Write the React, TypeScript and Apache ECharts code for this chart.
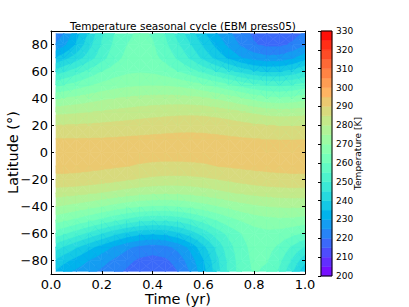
import React, { useEffect, useRef } from 'react';
import * as echarts from 'echarts';

const FONT = 'DejaVu Sans';

// time samples (yr) and latitude samples (deg)
const TIMES = [0.02, 0.05, 0.1, 0.15, 0.2, 0.25, 0.3, 0.35, 0.4, 0.45, 0.5, 0.55, 0.6, 0.65, 0.7, 0.75, 0.8, 0.85, 0.9, 0.95, 1.0];
const LATS = [-88, -80, -70, -60, -50, -40, -30, -20, -10, 0, 10, 20, 30, 40, 50, 60, 70, 80, 88];

// temperature (K) per latitude row, one value per time sample
const T_S88 = [234, 231.8, 229, 226.5, 224, 221.6, 219.2, 216.8, 215.8, 216.8, 220, 225.5, 233, 242, 251, 257.5, 260.5, 259, 254, 245.5, 236];
const T_S80 = [239, 236.5, 233, 229.8, 226.8, 224, 221.3, 219, 218.2, 219, 222, 227.5, 234.5, 243, 251.3, 257.8, 261, 260.3, 256, 249, 241.5];
const T_S70 = [247, 244.5, 240.5, 236.5, 232.8, 229.2, 226, 223.6, 222.5, 223.5, 226.5, 231.5, 238.5, 246, 253, 258.5, 261.5, 261.8, 259, 254, 249.5];
const T_S60 = [257.5, 255.6, 252.2, 248.5, 244.8, 241.2, 238.2, 236.2, 235.5, 236.2, 238.6, 242.3, 247, 252, 256.5, 260, 262.5, 263.5, 263, 261.3, 259.3];
const T_S50 = [267, 265.8, 263.6, 261.2, 258.5, 255.8, 253.3, 251.3, 250.3, 250.3, 251.5, 253.8, 256.8, 260, 263, 265.5, 267.3, 268.3, 268.8, 268.6, 267.8];
const T_S40 = [275, 274.3, 273, 271.5, 269.8, 268, 266.3, 265, 264.3, 264.2, 264.8, 266, 267.6, 269.4, 271.2, 272.8, 274, 274.9, 275.4, 275.6, 275.4];
const T_S30 = [282.3, 282, 281.4, 280.6, 279.6, 278.5, 277.4, 276.4, 275.8, 275.5, 275.7, 276.3, 277.2, 278.3, 279.5, 280.5, 281.3, 281.9, 282.3, 282.5, 282.5];
const T_S20 = [288.7, 288.7, 288.5, 288, 287.3, 286.4, 285.4, 284.5, 283.8, 283.4, 283.3, 283.5, 284, 284.8, 285.8, 286.7, 287.5, 288.1, 288.5, 288.7, 288.7];
const T_S10 = [291.6, 291.6, 291.5, 291.3, 291, 290.6, 290.1, 289.6, 289.2, 289, 289, 289.2, 289.5, 290, 290.5, 290.9, 291.2, 291.4, 291.5, 291.6, 291.6];
const T_EQ = [292.3, 292.3, 292.3, 292.2, 292.1, 292, 291.9, 291.8, 291.8, 291.8, 291.8, 291.8, 291.8, 291.9, 292, 292.1, 292.2, 292.3, 292.3, 292.3, 292.3];
const T_N10 = [290.1, 290.1, 290.1, 290.2, 290.3, 290.5, 290.7, 290.9, 291.1, 291.2, 291.3, 291.3, 291.2, 291, 290.7, 290.4, 290.1, 289.9, 289.8, 289.8, 289.9];
const T_N20 = [285.2, 285.3, 285.5, 285.8, 286.1, 286.5, 286.9, 287.3, 287.7, 288.1, 288.4, 288.5, 288.4, 288, 287.4, 286.6, 285.8, 285.2, 284.9, 284.9, 285];
const T_N30 = [278.5, 278.7, 279.2, 279.8, 280.5, 281.2, 281.8, 282.4, 282.9, 283.3, 283.6, 283.7, 283.5, 282.8, 281.8, 280.5, 279, 277.8, 277.3, 277.5, 278];
const T_N40 = [269.5, 270.3, 271.5, 272.8, 274, 275, 275.8, 276.4, 276.8, 277, 277, 276.6, 275.8, 274.4, 272.6, 270.5, 268.3, 266.5, 265.8, 266.5, 268.3];
const T_N50 = [258.5, 259.8, 262, 264.3, 266.3, 267.8, 268.8, 269.4, 269.6, 269.4, 268.7, 267.4, 265.5, 263.2, 260.6, 258, 255.7, 254.2, 253.8, 254.8, 256.8];
const T_N60 = [247, 249, 252.5, 256.5, 260, 262.5, 264, 264.5, 264, 262.5, 260, 257, 253.5, 250, 246.5, 243, 240.5, 239.3, 239.5, 241.5, 244.8];
const T_N70 = [235.5, 238, 242.5, 247.5, 253, 258, 261.5, 262.5, 261.5, 258.5, 254, 249, 243.5, 238.5, 234, 230.3, 227.8, 226.5, 226.8, 229, 233];
const T_N80 = [225.5, 228.5, 235.5, 243, 250.5, 256, 260, 261.5, 260.5, 256, 250.5, 245, 239, 233.5, 228.5, 224, 220.5, 218.7, 218.7, 220.8, 224];
const T_N88 = [222, 225, 233, 241, 249, 255, 259, 261, 259.5, 254.5, 248, 242, 236, 230.5, 226, 222, 219, 217, 216.5, 218, 220.8];

const ROWS = [T_S88, T_S80, T_S70, T_S60, T_S50, T_S40, T_S30, T_S20, T_S10, T_EQ, T_N10, T_N20, T_N30, T_N40, T_N50, T_N60, T_N70, T_N80, T_N88];

// contour levels (K)
const LEVELS = [200, 205, 210, 215, 220, 225, 230, 235, 240, 245, 250, 255, 260, 265, 270, 275, 280, 285, 290, 295, 300, 305, 310, 315, 320, 325, 330];
const LAT_TICKS = [-80, -60, -40, -20, 0, 20, 40, 60, 80];

function rainbow(x: number) {
  const r = Math.min(1, Math.abs(2 * x - 0.5));
  const g = Math.max(0, Math.sin(Math.PI * x));
  const b = Math.max(0, Math.cos((Math.PI * x) / 2));
  return `rgb(${Math.round(r * 255)},${Math.round(g * 255)},${Math.round(b * 255)})`;
}
const VMIN = LEVELS[0];
const VMAX = LEVELS[LEVELS.length - 1];
const BAND_COLORS = LEVELS.slice(0, -1).map((lo, k) => rainbow(((lo + LEVELS[k + 1]) / 2 - VMIN) / (VMAX - VMIN)));

function bandIndex(v: number) {
  let k = 0;
  while (k < LEVELS.length - 2 && v >= LEVELS[k + 1]) k++;
  return k;
}

type P = [number, number, number];
function clipAbove(pts: P[], L: number): P[] {
  const out: P[] = [];
  for (let i = 0; i < pts.length; i++) {
    const a = pts[i];
    const b = pts[(i + 1) % pts.length];
    const ain = a[2] >= L;
    const bin = b[2] >= L;
    if (ain) out.push(a);
    if (ain !== bin) {
      const f = (L - a[2]) / (b[2] - a[2]);
      out.push([a[0] + f * (b[0] - a[0]), a[1] + f * (b[1] - a[1]), L]);
    }
  }
  return out;
}

function addTriangle(children: any[], tri: P[]) {
  const vals = tri.map((p) => p[2]);
  const vmin = Math.min(...vals);
  const vmax = Math.max(...vals);
  const k0 = bandIndex(vmin);
  const k1 = bandIndex(vmax);
  const base = BAND_COLORS[k0];
  children.push({
    type: 'polygon',
    shape: { points: tri.map((p) => [p[0], p[1]]) },
    style: { fill: base, stroke: base, lineWidth: 0.6 },
  });
  for (let k = k0 + 1; k <= k1; k++) {
    const poly = clipAbove(tri, LEVELS[k]);
    if (poly.length >= 3) {
      const c = BAND_COLORS[k];
      children.push({
        type: 'polygon',
        shape: { points: poly.map((p) => [p[0], p[1]]) },
        style: { fill: c, stroke: c, lineWidth: 0.6 },
      });
    }
  }
}

const CELLS: number[][] = [];
for (let j = 0; j < LATS.length - 1; j++) {
  for (let i = 0; i < TIMES.length - 1; i++) {
    CELLS.push([(TIMES[i] + TIMES[i + 1]) / 2, (LATS[j] + LATS[j + 1]) / 2, i, j]);
  }
}

const BLACK = '#000';
const tickStyle = { color: BLACK, width: 1 };
const lineStyle = { color: BLACK, width: 1 };
const latFormatter = (v: number) => (v < 0 ? '\u2212' + Math.abs(v) : String(v));

export default function App() {
  const ref = useRef<HTMLDivElement>(null);
  useEffect(() => {
    if (!ref.current) return;
    const chart = echarts.init(ref.current, null, { renderer: 'svg' });
    const option: any = {
      animation: false,
      backgroundColor: '#fff',
      textStyle: { fontFamily: FONT },
      title: {
        text: 'Temperature seasonal cycle (EBM press05)',
        left: 178,
        top: 15,
        textAlign: 'center',
        textStyle: { fontSize: 10.5, fontWeight: 'normal', color: BLACK, fontFamily: FONT },
      },
      grid: [
        { left: 51, top: 31, width: 254, height: 243, outerBoundsMode: 'none', containLabel: false },
        { left: 321, top: 31, width: 11, height: 245, outerBoundsMode: 'none', containLabel: false },
      ],
      xAxis: [
        {
          gridIndex: 0, type: 'value', min: 0, max: 1, interval: 0.2, position: 'bottom', z: 10,
          axisLine: { show: true, onZero: false, lineStyle },
          axisTick: { show: true, inside: true, length: 3, lineStyle: tickStyle },
          axisLabel: { formatter: (v: number) => v.toFixed(1), fontSize: 13, lineHeight: 13, color: BLACK, margin: 4, fontFamily: FONT },
          splitLine: { show: false },
          name: 'Time (yr)', nameLocation: 'middle', nameGap: 17.5, nameMoveOverlap: false,
          nameTextStyle: { fontSize: 14.5, lineHeight: 15, color: BLACK, fontFamily: FONT },
        },
        {
          gridIndex: 0, type: 'value', min: 0, max: 1, interval: 0.2, position: 'top', z: 10,
          axisLine: { show: true, onZero: false, lineStyle },
          axisTick: { show: true, inside: true, length: 3, lineStyle: tickStyle },
          axisLabel: { show: false },
          splitLine: { show: false },
        },
        { gridIndex: 1, type: 'value', min: 0, max: 1, show: false },
      ],
      yAxis: [
        {
          gridIndex: 0, type: 'value', min: -90, max: 90, position: 'left', z: 10,
          axisLine: { show: true, onZero: false, lineStyle },
          axisTick: { show: true, inside: true, length: 3, customValues: LAT_TICKS, lineStyle: tickStyle },
          axisLabel: { customValues: LAT_TICKS, formatter: latFormatter, fontSize: 13, color: BLACK, margin: 3, fontFamily: FONT },
          splitLine: { show: false },
          name: 'Latitude (°)', nameLocation: 'middle', nameGap: 31, nameRotate: 90, nameMoveOverlap: false,
          nameTextStyle: { fontSize: 14.5, color: BLACK, fontFamily: FONT },
        },
        {
          gridIndex: 0, type: 'value', min: -90, max: 90, position: 'right', z: 10,
          axisLine: { show: true, onZero: false, lineStyle },
          axisTick: { show: true, inside: true, length: 3, customValues: LAT_TICKS, lineStyle: tickStyle },
          axisLabel: { show: false },
          splitLine: { show: false },
        },
        {
          gridIndex: 1, type: 'value', min: 200, max: 330, interval: 10, position: 'right', z: 10,
          axisLine: { show: false },
          axisTick: { show: true, inside: true, length: 3, lineStyle: tickStyle },
          axisLabel: { fontSize: 9, color: BLACK, margin: 4, fontFamily: FONT },
          splitLine: { show: false },
          name: 'Temperature [K]', nameLocation: 'middle', nameGap: 21, nameRotate: 90, nameMoveOverlap: false,
          nameTextStyle: { fontSize: 9, color: BLACK, fontFamily: FONT },
        },
      ],
      series: [
        {
          type: 'custom',
          xAxisIndex: 0,
          yAxisIndex: 0,
          silent: true,
          clip: true,
          z: 1,
          data: CELLS,
          encode: { x: 0, y: 1 },
          renderItem: (params: any, api: any) => {
            const i = api.value(2);
            const j = api.value(3);
            const corners: P[] = [[i, j], [i + 1, j], [i + 1, j + 1], [i, j + 1]].map(([a, b]) => {
              const p = api.coord([TIMES[a], LATS[b]]);
              return [p[0], p[1], ROWS[b][a]] as P;
            });
            const center: P = [
              (corners[0][0] + corners[1][0] + corners[2][0] + corners[3][0]) / 4,
              (corners[0][1] + corners[1][1] + corners[2][1] + corners[3][1]) / 4,
              (corners[0][2] + corners[1][2] + corners[2][2] + corners[3][2]) / 4,
            ];
            const children: any[] = [];
            for (let k = 0; k < 4; k++) addTriangle(children, [corners[k], corners[(k + 1) % 4], center]);
            return { type: 'group', children };
          },
        },
        {
          type: 'custom',
          xAxisIndex: 2,
          yAxisIndex: 2,
          silent: true,
          z: 1,
          data: LEVELS.slice(0, -1).map((lo, k) => [0.5, (lo + LEVELS[k + 1]) / 2, k]),
          encode: { x: 0, y: 1 },
          renderItem: (params: any, api: any) => {
            const k = api.value(2);
            const p0 = api.coord([0, LEVELS[k]]);
            const p1 = api.coord([1, LEVELS[k + 1]]);
            const c = BAND_COLORS[k];
            return {
              type: 'rect',
              shape: { x: p0[0], y: p1[1], width: p1[0] - p0[0], height: p0[1] - p1[1] },
              style: { fill: c, stroke: c, lineWidth: 0.5 },
            };
          },
        },
        {
          type: 'custom',
          xAxisIndex: 2,
          yAxisIndex: 2,
          silent: true,
          z: 5,
          data: [[0.5, (VMIN + VMAX) / 2]],
          encode: { x: 0, y: 1 },
          renderItem: (params: any, api: any) => {
            const p0 = api.coord([0, VMIN]);
            const p1 = api.coord([1, VMAX]);
            return {
              type: 'rect',
              shape: { x: p0[0], y: p1[1], width: p1[0] - p0[0], height: p0[1] - p1[1] },
              style: { fill: 'none', stroke: BLACK, lineWidth: 1 },
            };
          },
        },
      ],
    };
    chart.setOption(option);
    return () => chart.dispose();
  }, []);
  return (
    <div
      ref={ref}
      style={{ position: 'fixed', left: 0, top: 0, width: 409, height: 307, background: '#fff' }}
    />
  );
}
